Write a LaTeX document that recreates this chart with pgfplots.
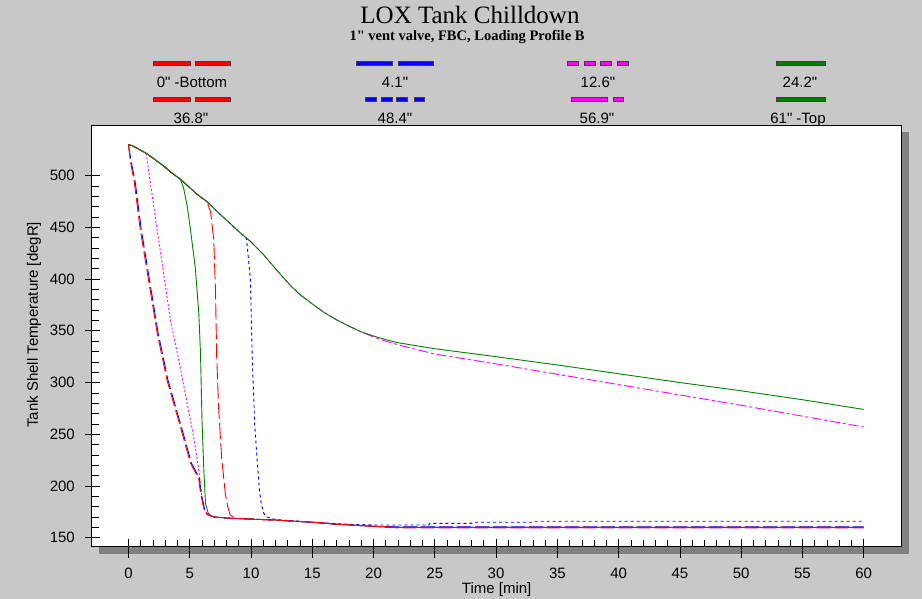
\documentclass[border=0pt]{standalone}
\usepackage{fontspec}
\setmainfont{Liberation Sans}[Ligatures=TeXOff]
\newfontfamily\seriffont{Liberation Serif}[Ligatures=TeXOff]
\usepackage{pgfplots}
\pgfplotsset{compat=1.18}
\definecolor{bg}{RGB}{200,200,200}
\definecolor{shd}{RGB}{128,128,128}
\definecolor{dgreen}{RGB}{0,128,0}
\definecolor{mag}{RGB}{255,0,255}
\definecolor{rd}{RGB}{255,0,0}
\definecolor{bl}{RGB}{0,0,255}
\newcommand{\legbar}[4]{\filldraw[fill=#4, draw=black!75, line width=0.6pt] (#1,#3-2) rectangle (#2,#3+2);}
\newcommand{\legtext}[3]{\node[anchor=base, inner sep=0pt, font=\fontsize{15}{18}\selectfont] at (#1,#2) {#3};}
\begin{document}
\begin{tikzpicture}[x=1pt,y=1pt]
\path[use as bounding box] (0,0) rectangle (922,599);
\fill[bg] (0,0) rectangle (922,599);
\fill[shd] (98.7,45.3) rectangle (908.7,467);
\begin{axis}[at={(91.7pt,52.3pt)}, anchor=south west, scale only axis,
  width=810pt, height=421.7pt,
  xmin=-3, xmax=63.1, ymin=141.3, ymax=549,
  axis background/.style={fill=white},
  axis line style={black, line width=0.8pt},
  xtick={0,5,...,60}, ytick={150,200,...,500},
  minor x tick num=4, minor y tick num=4,
  tick align=inside, major tick length=8pt, minor tick length=7pt,
  tick style={black, line width=0.7pt},
  xtick pos=bottom, ytick pos=left,
  extra x ticks={0,5,...,60}, extra x tick labels={},
  extra x tick style={tick align=outside, major tick length=11.3pt},
  extra y ticks={150,200,...,500}, extra y tick labels={},
  extra y tick style={tick align=outside, major tick length=6.7pt},
  ticklabel style={font=\fontsize{15}{18}\selectfont, inner sep=0pt},
  /pgf/number format/assume math mode=true,
  xticklabel style={anchor=center, yshift=-26.5pt},
  yticklabel style={anchor=east, xshift=-16.7pt},
  xlabel={Time [min]}, ylabel={Tank Shell Temperature [degR]},
  every axis x label/.style={at={(rel axis cs:0.5,0)}, anchor=center, yshift=-43.3pt, font=\fontsize{15}{18}\selectfont},
  every axis y label/.style={at={(rel axis cs:0,0.5)}, xshift=-57.7pt, yshift=11pt, rotate=90, anchor=center, font=\fontsize{15}{18}\selectfont},
  every axis plot/.append style={line width=0.9pt},
]
% 12.6" magenta dotted
\addplot[mag, dash pattern=on 2pt off 2pt] coordinates {(0,530) (0.3,529) (0.7,526.5) (1.45,521.7) (1.8,492) (2.32,449) (2.75,415) (3.43,360) (4.1,322) (4.79,280) (5.33,247) (5.74,215) (6.0,189) (6.2,178) (6.4,173) (6.7,171) (7,170) (8,169) (9,168.5) (10,168) (12,167) (13.5,166) (15,165) (17,163) (18.5,162) (20,161) (21,160.5) (22,160) (60,160)};
% 24.2" green solid
\addplot[dgreen] coordinates {(0,530) (0.3,529) (0.7,526.5) (1.4,522) (2.0,517) (2.8,510) (3.5,503) (4.24,496.5) (4.5,488) (4.8,470) (5.06,448) (5.47,409) (5.74,367) (5.88,328) (6.0,264) (6.15,215) (6.29,183) (6.5,174) (6.7,171.5) (7,170) (8,169) (9,168.5) (10,168) (12,167) (13.5,166) (15,165) (17,163) (18.5,162) (20,161) (21,160.5) (22,160) (60,160)};
% 48.4" blue dotted
\addplot[bl, dash pattern=on 3pt off 3pt] coordinates {(0,530) (0.3,529) (0.7,526.5) (1.4,522) (2.0,517) (2.8,510) (3.5,503) (4.24,496.5) (5.0,488.5) (5.6,482) (6.4,475) (7.0,468) (8.0,457) (9.0,446) (9.6,440) (9.67,434.6) (9.95,400) (10.1,325) (10.3,260) (10.5,225) (10.7,195) (10.85,182) (11.05,173.5) (11.3,170) (12,167.5) (15,165) (18,163) (20,162.3) (24.5,162.3) (24.6,163.9) (28,163.9) (28.1,164.9) (32.9,164.9) (33,165.9) (60,165.9)};
% 56.9" magenta dash-dot
\addplot[mag, dash pattern=on 10pt off 3pt on 3pt off 3pt] coordinates {(0,530) (0.3,529) (0.7,526.5) (1.4,522) (2.0,517) (2.8,510) (3.5,503) (4.24,496.5) (5.0,488.5) (5.6,482) (6.4,475) (7.0,468) (8.0,457) (9.0,446) (9.6,440) (10.0,436) (11.0,424) (12.0,410) (13.2,394) (14.0,385) (15.0,376) (16.0,367.5) (17.0,360.5) (18.0,354.5) (19,349) (20,344) (21,340) (22,336.5) (25,327.5) (30,318) (35,308) (40,298) (45,288) (50,278) (55,267.5) (60,257)};
% 4.1" blue dashed
\addplot[bl, dash pattern=on 14pt off 4pt] coordinates {(0,530) (0.2,515) (0.55,494) (1.03,449) (1.58,409) (2.42,348) (3.23,302) (4.32,257) (5.14,222) (5.68,210) (5.8,207) (5.85,200) (6.0,189) (6.2,178) (6.45,172.5) (6.75,171) (7,170) (8,169) (10,168) (12,167) (15,165) (17,163) (18.5,162) (20,161) (22,160.5) (60,160.5)};
% 36.8" red dashed
\addplot[rd, dash pattern=on 16pt off 4pt] coordinates {(0,530) (0.3,529) (0.7,526.5) (1.4,522) (2.0,517) (2.8,510) (3.5,503) (4.24,496.5) (5.0,488.5) (5.6,482) (6.4,475) (6.7,465) (6.96,438) (7.1,389.5) (7.2,325) (7.35,277) (7.6,228) (7.9,193) (8.1,180) (8.3,172) (8.6,169.5) (9,168.5) (10,168) (12,167) (13.5,166) (15,165) (17,163) (18.5,162) (20,161) (21,160.5) (22,160) (60,160)};
% 0" bottom red dashed
\addplot[rd, dash pattern=on 14pt off 4pt] coordinates {(0,530) (0.14,515) (0.47,494) (0.95,449) (1.5,409) (2.34,348) (3.15,302) (4.24,257) (5.06,222) (5.6,210) (5.74,207) (5.8,200) (5.95,189) (6.15,178) (6.4,172.5) (6.7,171) (7,170) (8,169) (10,168) (12,167) (15,165) (17,163) (18.5,162) (20,161) (21,160) (22,159.5) (60,159.5)};
% 61" top green solid
\addplot[dgreen] coordinates {(0,530) (0.3,529) (0.7,526.5) (1.4,522) (2.0,517) (2.8,510) (3.5,503) (4.24,496.5) (5.0,488.5) (5.6,482) (6.4,475) (7.0,468) (8.0,457) (9.0,446) (9.6,440) (10.0,436) (11.0,424) (12.0,410) (13.2,394) (14.0,385) (15.0,376) (16.0,367.5) (17.0,360.5) (18.0,354.5) (19.0,349) (20.0,345) (21.0,341.5) (22.0,338.5) (25.0,332.7) (30.0,325) (35.0,317) (40.0,308.5) (45.0,300) (50.0,292) (55.0,283.4) (60.0,274)};
\end{axis}
% titles
\node[anchor=base, inner sep=0pt, font=\seriffont\fontsize{25}{30}\selectfont] at (470,575.7) {LOX Tank Chilldown};
\node[anchor=base, inner sep=0pt, font=\seriffont\bfseries\fontsize{14.5}{17}\selectfont] at (467,558) {1" vent valve, FBC, Loading Profile B};
% legend row 1
\legbar{153.3}{190}{535.3}{rd}\legbar{195}{230.7}{535.3}{rd}
\legbar{356}{392}{535.3}{bl}\legbar{398}{433}{535.3}{bl}
\legbar{567.5}{578.5}{535.3}{mag}\legbar{584}{595}{535.3}{mag}\legbar{600.5}{611.5}{535.3}{mag}\legbar{617}{628}{535.3}{mag}
\legbar{776}{825}{535.3}{dgreen}
\legtext{192}{511}{0" -Bottom}
\legtext{395}{511}{4.1"}
\legtext{598}{511}{12.6"}
\legtext{800}{511}{24.2"}
% legend row 2
\legbar{153.3}{190}{500}{rd}\legbar{195}{230.7}{500}{rd}
\legbar{365.5}{376}{500}{bl}\legbar{381.5}{392}{500}{bl}\legbar{396.5}{407}{500}{bl}\legbar{414}{424.5}{500}{bl}
\legbar{571}{607}{500}{mag}\legbar{613}{623}{500}{mag}
\legbar{776}{825}{500}{dgreen}
\legtext{191}{475}{36.8"}
\legtext{395}{475}{48.4"}
\legtext{597}{475}{56.9"}
\legtext{798}{475}{61" -Top}
\end{tikzpicture}
\end{document}
